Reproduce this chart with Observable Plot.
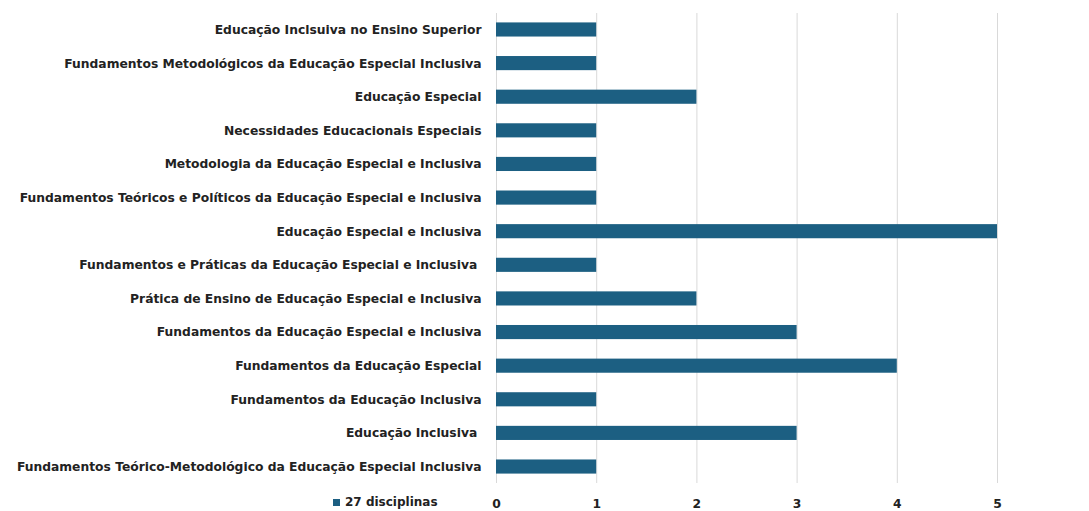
<!DOCTYPE html>
<html>
<head>
<meta charset="utf-8">
<script src="https://cdn.jsdelivr.net/npm/d3@7"></script>
<script src="https://cdn.jsdelivr.net/npm/@observablehq/plot@0.6"></script>
<style>
  html, body { margin: 0; padding: 0; background: #fff; }
  #wrap { position: relative; width: 1089px; height: 511px; }
  #legend { position: absolute; left: 333px; top: 495px; font: bold 12px "DejaVu Sans", sans-serif; color: #222; display: flex; align-items: center; white-space: nowrap; }
  #legend .sw { display: inline-block; width: 7px; height: 7px; background: #1c5f82; margin-right: 5px; }
</style>
</head>
<body>
<div id="wrap"><div id="legend"><span class="sw"></span><span id="legtext"></span></div></div>
<script>
const categories = [
  "Educação Inclsuiva no Ensino Superior",
  "Fundamentos Metodológicos da Educação Especial Inclusiva",
  "Educação Especial",
  "Necessidades Educacionais Especiais",
  "Metodologia da Educação Especial e Inclusiva",
  "Fundamentos Teóricos e Políticos da Educação Especial e Inclusiva",
  "Educação Especial e Inclusiva",
  "Fundamentos e Práticas da Educação Especial e Inclusiva ",
  "Prática de Ensino de Educação Especial e Inclusiva",
  "Fundamentos da Educação Especial e Inclusiva",
  "Fundamentos da Educação Especial",
  "Fundamentos da Educação Inclusiva",
  "Educação Inclusiva ",
  "Fundamentos Teórico-Metodológico da Educação Especial Inclusiva"
];
const values = [1, 1, 2, 1, 1, 1, 5, 1, 2, 3, 4, 1, 3, 1];
const seriesName = "27 disciplinas";
const xTicks = [0, 1, 2, 3, 4, 5];

const data = categories.map((c, i) => ({category: c, value: values[i]}));

const chart = Plot.plot({
  width: 1089,
  height: 511,
  marginLeft: 496,
  marginRight: 92,
  marginTop: 13,
  marginBottom: 28,
  style: {fontFamily: "'DejaVu Sans', sans-serif", fontSize: "12.3px", fontWeight: "bold", color: "#222", background: "#fff"},
  x: {domain: [0, 5], ticks: xTicks, tickSize: 0, tickPadding: 16, label: null, tickFormat: d3.format("d")},
  y: {domain: categories, paddingInner: 0.58, paddingOuter: 0.28, round: false, label: null, tickSize: 0, tickPadding: 15},
  marks: [
    Plot.gridX(xTicks, {stroke: "#d9d9d9", strokeOpacity: 1, strokeWidth: 1}),
    Plot.barX(data, {x: "value", y: "category", fill: "#1c5f82"})
  ]
});
document.getElementById("wrap").prepend(chart);
document.getElementById("legtext").textContent = seriesName;
</script>
</body>
</html>
